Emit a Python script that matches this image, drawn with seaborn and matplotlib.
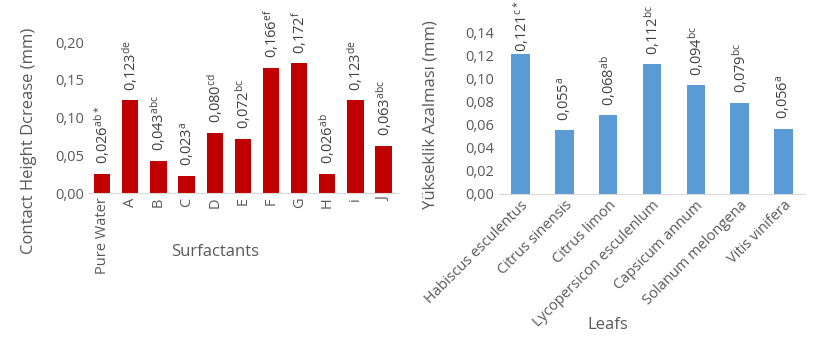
import matplotlib
matplotlib.use("Agg")
import matplotlib.pyplot as plt
import seaborn as sns
import pandas as pd

surfactants = ["Pure Water", "A", "B", "C", "D", "E", "F", "G", "H", "i", "J"]
surf_values = [0.026, 0.123, 0.043, 0.023, 0.080, 0.072, 0.166, 0.172, 0.026, 0.123, 0.063]
surf_letters = ["ab*", "de", "abc", "a", "cd", "bc", "ef", "f", "ab", "de", "abc"]

leafs = ["Habiscus esculentus", "Citrus sinensis", "Citrus limon", "Lycopersicon esculenlum",
         "Capsicum annum", "Solanum melongena", "Vitis vinifera"]
leaf_values = [0.121, 0.055, 0.068, 0.112, 0.094, 0.079, 0.056]
leaf_letters = ["c*", "a", "ab", "bc", "bc", "bc", "a"]

left_ticks = [0.00, 0.05, 0.10, 0.15, 0.20]
right_ticks = [0.00, 0.02, 0.04, 0.06, 0.08, 0.10, 0.12, 0.14]

sns.set_style("white")
plt.rcParams['font.family'] = ['Open Sans', 'DejaVu Sans']
plt.rcParams['mathtext.fontset'] = 'custom'
plt.rcParams['mathtext.rm'] = 'Open Sans'
plt.rcParams['mathtext.it'] = 'Open Sans'
plt.rcParams['mathtext.default'] = 'rm'

TXT = "#595959"
fig = plt.figure(figsize=(8.15, 3.57), dpi=100)
ax1 = fig.add_axes([0.108, 0.459, 0.380, 0.423])
ax2 = fig.add_axes([0.612, 0.457, 0.376, 0.453])

annotations = []

def fmt(v):
    return f"{v:.3f}".replace(".", ",")

def draw(ax, cats, vals, letters, color, width, ticks, ylab, xlab):
    df = pd.DataFrame({"cat": cats, "val": vals})
    sns.barplot(data=df, x="cat", y="val", color=color, width=width, ax=ax,
                saturation=1, edgecolor=color, linewidth=0)
    ax.set_ylim(ticks[0], ticks[-1])
    ax.set_yticks(ticks)
    ax.set_yticklabels([f"{t:.2f}".replace(".", ",") for t in ticks], color=TXT, fontsize=10.5)
    ax.set_xlim(-0.5, len(cats) - 0.5)
    for s in ["top", "right", "left"]:
        ax.spines[s].set_visible(False)
    ax.spines["bottom"].set_color("#D9D9D9")
    ax.tick_params(axis="both", length=0, pad=3)
    ax.set_ylabel(ylab, color=TXT, fontsize=12)
    ax.set_xlabel(xlab, color=TXT, fontsize=12)
    ax.xaxis.label.set_va("center")
    ax.yaxis.label.set_va("bottom")
    for i, (v, l) in enumerate(zip(vals, letters)):
        a = ax.annotate(fmt(v) + r"$^{\mathrm{" + l + "}}$",
                        (i, v), xytext=(0, 7), textcoords="offset points",
                        rotation=90, ha="center", va="bottom", color="#404040",
                        fontsize=10.5, annotation_clip=False)
        annotations.append(a)

draw(ax1, surfactants, surf_values, surf_letters, "#C00000", 0.58, left_ticks,
     "Contact Height Dcrease (mm)", "Surfactants")
ax1.set_xticks(range(len(surfactants)))
ax1.set_xticklabels(surfactants, rotation=90, color=TXT, fontsize=10.5)
ax1.yaxis.set_label_coords(-0.165, 0.344)
ax1.xaxis.set_label_coords(0.41, -0.39)

draw(ax2, leafs, leaf_values, leaf_letters, "#5B9BD5", 0.42, right_ticks,
     "Yükseklik Azalması (mm)", "Leafs")
ax2.set_xticks(range(len(leafs)))
ax2.set_xticklabels(leafs, rotation=45, ha="right", rotation_mode="anchor",
                    color=TXT, fontsize=10.5)
ax2.yaxis.set_label_coords(-0.196, 0.49)
ax2.xaxis.set_label_coords(0.356, -0.81)

# keep labels inside the chart area, as the original does
fig.canvas.draw()
renderer = fig.canvas.get_renderer()
H = fig.bbox.height
for a in annotations:
    bb = a.get_window_extent(renderer)
    if bb.y1 > H - 1:
        shift_px = bb.y1 - (H - 1)
        a.xyann = (0, 7 - shift_px * 72 / fig.dpi)

fig.savefig("out.png", dpi=100)
